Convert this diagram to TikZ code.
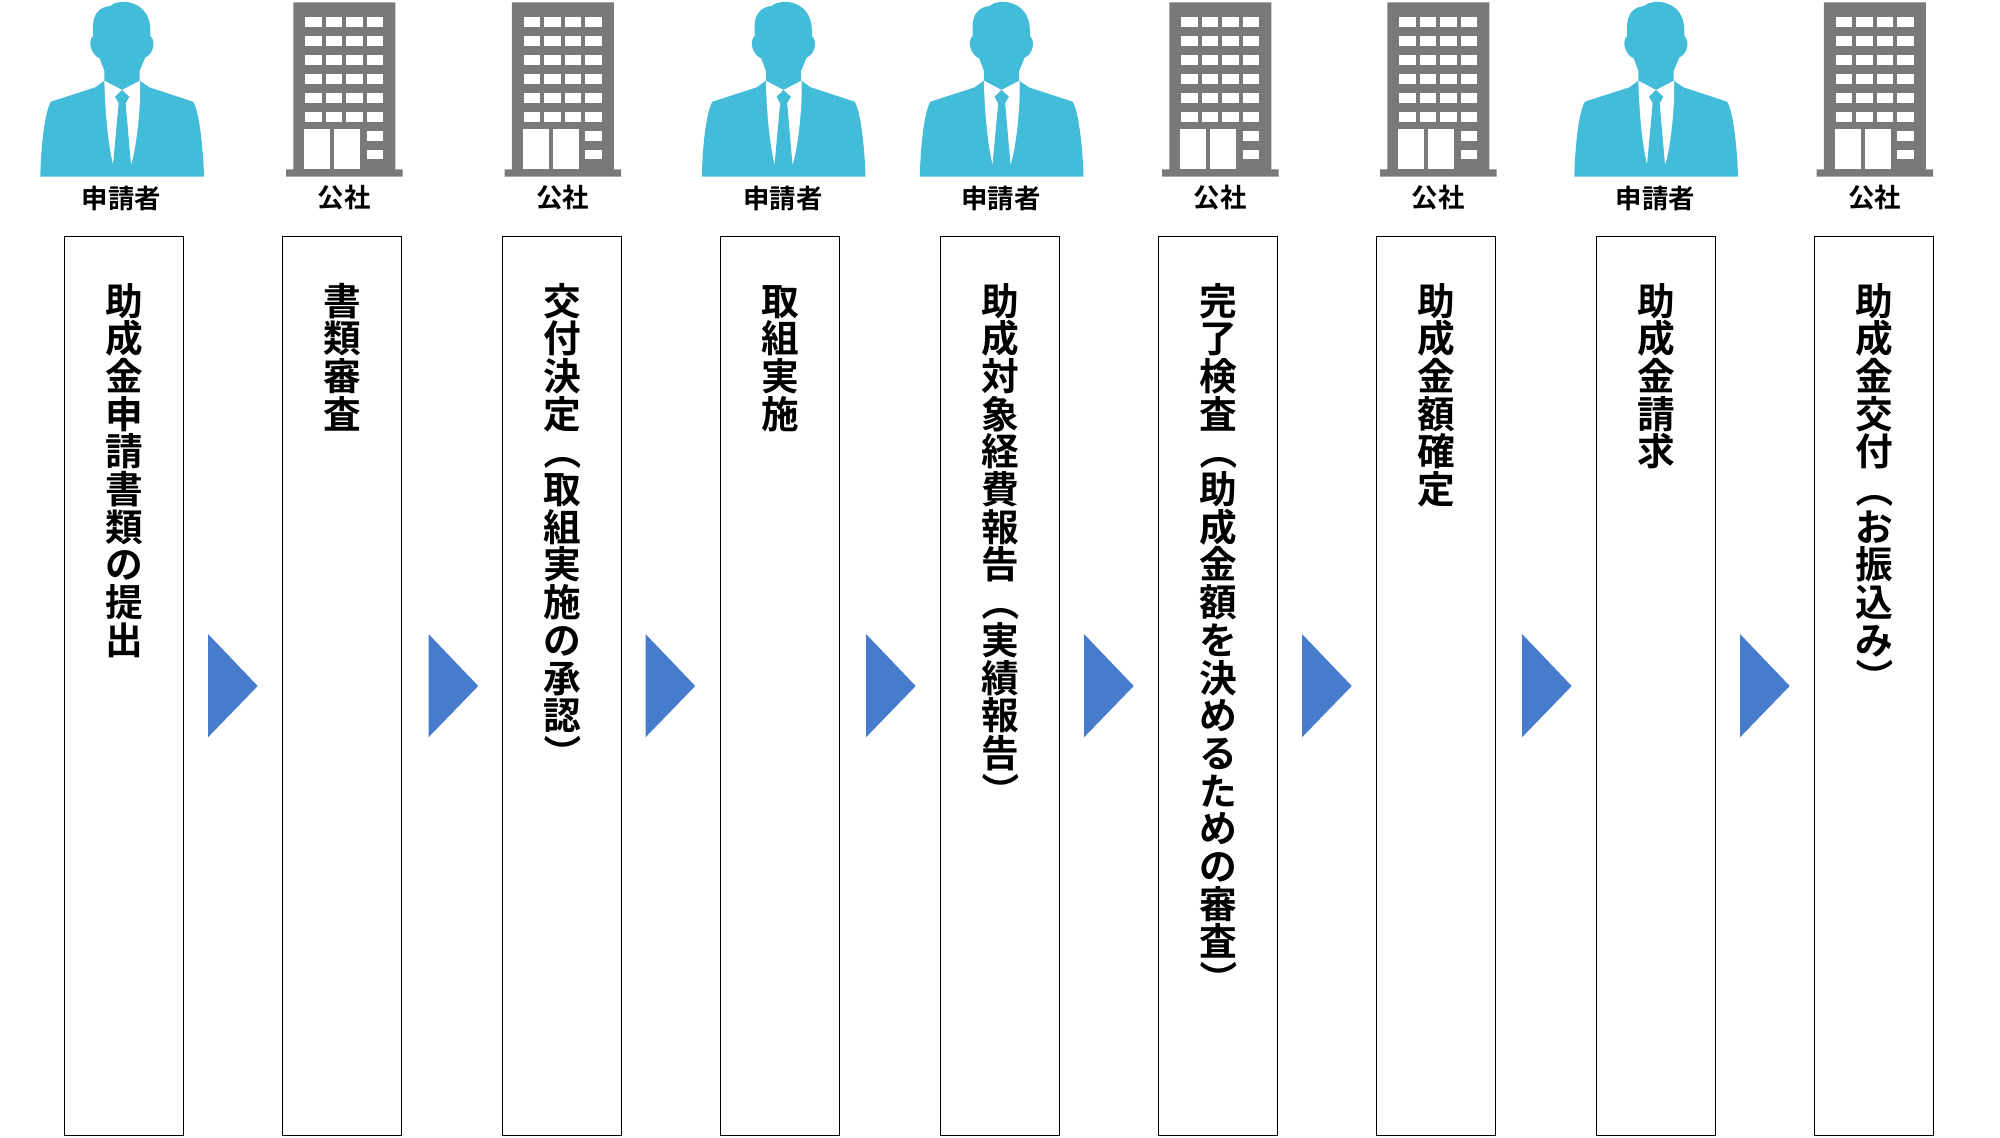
\documentclass[tikz,border=0pt]{standalone}
\usepackage{fontspec}
\usetikzlibrary{calc}
\setmainfont{Noto Sans CJK JP}[BoldFont=* Bold]
\definecolor{suit}{HTML}{42BCD9}
\definecolor{bldg}{HTML}{797979}
\definecolor{arr}{HTML}{477CCC}
\tikzstyle{bx}=[draw=black, line width=0.5pt, minimum width=59.5pt, minimum height=449.5pt, inner sep=0]
\tikzstyle{vtxt}=[anchor=north, inner sep=0, font=\bfseries\fontsize{18.85}{20}\selectfont]
\tikzstyle{who}=[inner sep=0, font=\bfseries\fontsize{13.2}{14}\selectfont]
\newcommand{\vcell}[1]{\hbox to 1em{\hss#1\hss\rule[-.12em]{0pt}{1em}}}
\def\vloop#1{\ifx#1\relax\else
	\ifx#1（\vcell{\rotatebox[origin=c]{-90}{（}}\else
	\ifx#1）\vcell{\rotatebox[origin=c]{-90}{）}}\else
	\vcell{\smash{#1}}\fi\fi
	\expandafter\vloop\fi}
\newcommand{\vtext}[1]{\vbox{\offinterlineskip\expandafter\vloop#1\relax}}
\tikzset{
person/.pic={
\fill[suit] (-245,530) .. controls (-243,430) and (-230,330) .. (-213,305) -- (-80,262) -- (-53,242) -- (-53,212)
 -- (-67,175) .. controls (-92,165) and (-104,125) .. (-87,108) -- (-87,80) .. controls (-87,40) and (-65,20) .. (-35,18)
 .. controls (-20,3) and (10,5) .. (20,7) .. controls (60,15) and (85,45) .. (85,90) -- (85,108)
 .. controls (104,125) and (92,165) .. (70,172) -- (53,212) -- (53,242) -- (82,262) -- (213,305)
 .. controls (230,330) and (243,430) .. (246,530) -- cycle;
\fill[white] (-53,242) -- (0,270) -- (54,242) -- (54,300) .. controls (50,380) and (40,450) .. (28,492) -- (-27,492)
 .. controls (-40,440) and (-50,350) .. (-53,242) -- cycle;
\fill[suit] (0,270) -- (22,290) -- (11,310) -- (27,495) -- (-27,495) -- (-10,310) -- (-21,290) -- cycle;
},
building/.pic={
\fill[bldg] (-152,7) -- (154,7) -- (154,508) -- (176,508) -- (176,530) -- (-174,530) -- (-174,508) -- (-152,508) -- cycle;
\foreach \y in {52,109,165,222,278,335}
	{\foreach \x in {-117,-55,6,68}
	{\fill[white] (\x,\y) rectangle +(50,30);}}
\fill[white] (-120,388) rectangle (-42,508);
\fill[white] (-30,388) rectangle (48,508);
\fill[white] (68,393) rectangle (118,422);
\fill[white] (68,449) rectangle (118,478);
}}
\begin{document}
\begin{tikzpicture}[x=0.5pt, y=-0.5pt]
\useasboundingbox (0,0) rectangle (2000,1138);
\foreach \n/\x/\t in {1/124/助成金申請書類の提出, 2/342/書類審査, 3/562/交付決定（取組実施の承認）, 4/780/取組実施, 5/1000/助成対象経費報告（実績報告）, 6/1218/完了検査（助成金額を決めるための審査）, 7/1436/助成金額確定, 8/1656/助成金請求, 9/1874/助成金交付（お振込み）}
	{\node[bx] (b\n) at (\x,686){};
	\node[vtxt] (t\n) at ($(b\n.north)+(0.5,45.5)$) {\vtext{\t}};}
\foreach \n/\x in {1/122,4/783.5,5/1001.5,8/1656}
	{\pic[scale=1/3] at (\x,0) {person};
	\node[who] (w\n) at (\x-0.5,198) {申請者};}
\foreach \n/\x in {2/344,3/562.5,6/1220,7/1438,9/1874.5}
	{\pic[scale=1/3] at (\x,0) {building};
	\node[who] (w\n) at (\x,198) {公社};}
\foreach \x in {208,428.5,645.5,866,1084,1302,1522,1740}
	{\fill[arr] (\x,634) -- +(49.7,52) -- +(0,103.3) -- cycle;}
\end{tikzpicture}
\end{document}
